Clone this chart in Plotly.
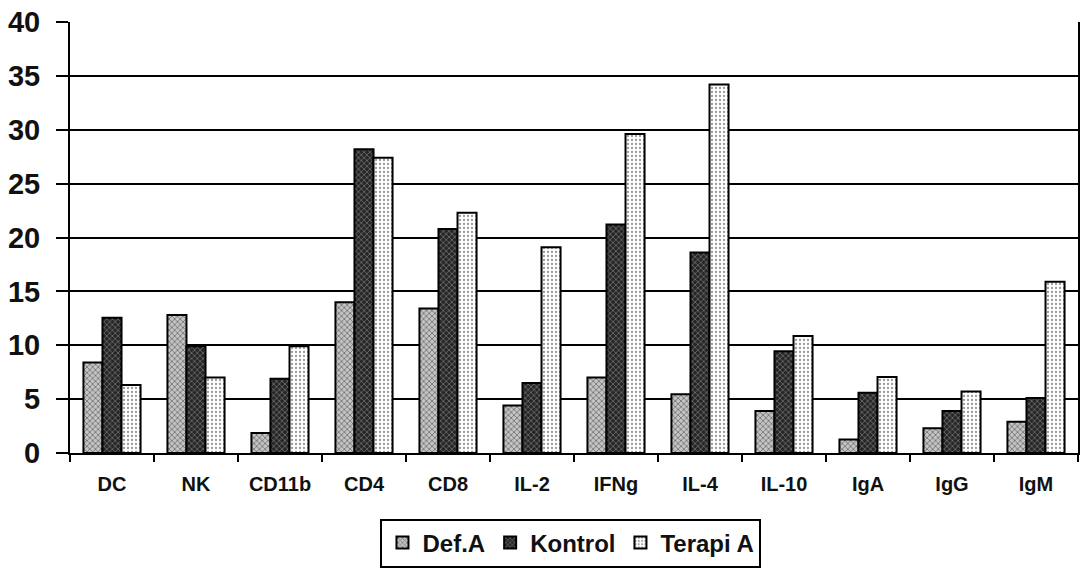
import plotly.graph_objects as go

categories = ["DC", "NK", "CD11b", "CD4", "CD8", "IL-2", "IFNg", "IL-4", "IL-10", "IgA", "IgG", "IgM"]
def_a = [8.4, 12.8, 1.85, 14.0, 13.4, 4.4, 7.0, 5.45, 3.9, 1.25, 2.3, 2.9]
kontrol = [12.55, 9.9, 6.9, 28.2, 20.8, 6.5, 21.2, 18.6, 9.45, 5.6, 3.9, 5.1]
terapi_a = [6.3, 7.0, 9.9, 27.4, 22.3, 19.1, 29.6, 34.2, 10.85, 7.05, 5.7, 15.9]
y_ticks = [0, 5, 10, 15, 20, 25, 30, 35, 40]

FONT = "Arial, Liberation Sans, sans-serif"

series = [
    ("Def.A", def_a, dict(shape="x", bgcolor="#c4c4c4", fgcolor="#6a6a6a", size=4, solidity=0.35, fillmode="replace")),
    ("Kontrol", kontrol, dict(shape="x", bgcolor="#262626", fgcolor="#808080", size=4, solidity=0.3, fillmode="replace")),
    ("Terapi A", terapi_a, dict(shape=".", bgcolor="#ffffff", fgcolor="#9a9a9a", size=4, solidity=0.25, fillmode="replace")),
]

fig = go.Figure()
for name, vals, pat in series:
    fig.add_trace(go.Bar(
        x=categories, y=vals, name=name,
        marker=dict(color=pat["bgcolor"], pattern=pat,
                    line=dict(color="#000000", width=2)),
    ))

fig.update_layout(
    width=1082, height=569,
    margin=dict(l=70, r=2, t=22, b=115),
    paper_bgcolor="white", plot_bgcolor="white",
    barmode="group", bargap=0.32, bargroupgap=0,
    font=dict(family=FONT, color="#111111", weight="bold"),
    showlegend=True,
    legend=dict(
        orientation="h", x=0.497, xanchor="center", y=-0.152, yanchor="top",
        bordercolor="#000000", borderwidth=2, bgcolor="white",
        font=dict(size=24, family=FONT, weight="bold"),
        itemwidth=30, tracegroupgap=0,
    ),
    xaxis=dict(
        type="category", range=[-0.5, 11.5],
        showline=True, linecolor="#000000", linewidth=2,
        ticks="outside", tickson="boundaries", ticklen=7, tickwidth=2, tickcolor="#000000",
        tickfont=dict(size=20, family=FONT, weight="bold"),
        ticklabelstandoff=12,
        showgrid=False, zeroline=False,
    ),
    yaxis=dict(
        range=[0, 40], tickvals=y_ticks,
        showline=True, linecolor="#000000", linewidth=2, mirror=True,
        ticks="outside", ticklen=12, tickwidth=2, tickcolor="#000000",
        tickfont=dict(size=29, family=FONT, weight="bold"),
        ticklabelstandoff=10,
        showgrid=True, gridcolor="#000000", gridwidth=2,
        zeroline=False,
    ),
)

fig.write_html("out.html")
